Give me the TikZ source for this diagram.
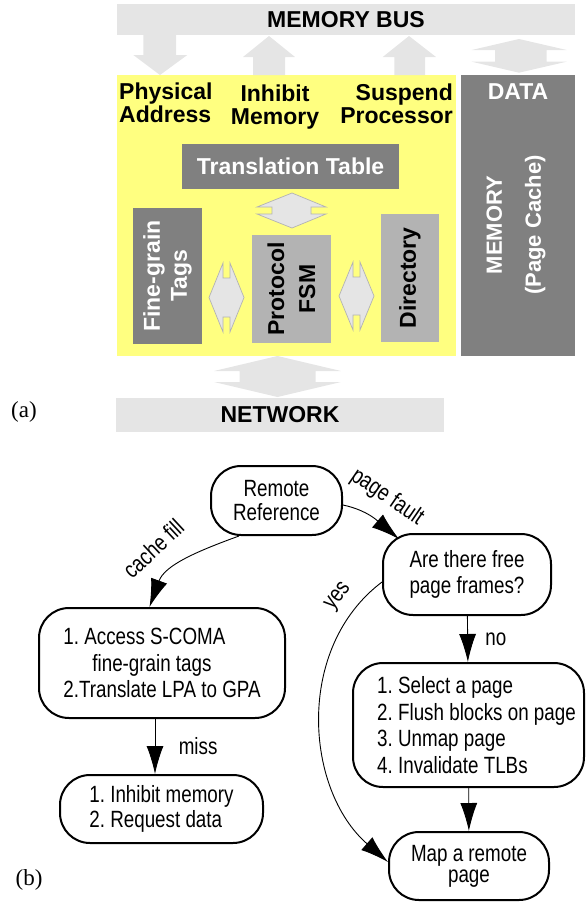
\documentclass[tikz,border=0pt]{standalone}
\usepackage{fontspec}
\setmainfont{Liberation Serif}
\newfontfamily\blockfont{Liberation Sans}
\newfontfamily\flowfont[FakeStretch=0.8]{Liberation Sans}
\usepackage{tikz}
\usetikzlibrary{arrows.meta}
\definecolor{busgray}{HTML}{E5E5E5}
\definecolor{darkbox}{HTML}{808080}
\definecolor{midbox}{HTML}{B3B3B3}
\definecolor{ctrlyellow}{HTML}{FFFF80}
\frenchspacing

\begin{document}
\begin{tikzpicture}[x=1pt,y=1pt]
	\useasboundingbox (0,0) rectangle (586,-902);
	\begin{scope}[every node/.style={inner sep=0pt,font=\blockfont\bfseries\fontsize{23}{23}\selectfont}]
		\node[fill=busgray,minimum width=458pt,minimum height=31pt] (bus) at (346,-19.5) {MEMORY BUS};
		\node[fill=ctrlyellow,minimum width=339pt,minimum height=281pt] (ctrl) at (286.5,-215.5) {};
		\node[fill=darkbox,minimum width=114pt,minimum height=281pt] (memory) at (518,-215.5) {};
		\node[fill=busgray,minimum width=328pt,minimum height=34pt] (network) at (280,-415) {NETWORK};
		\node[fill=darkbox,text=white,minimum width=217pt,minimum height=45pt] (table) at (290.5,-166.5) {Translation Table};
		\node[fill=darkbox,text=white,rotate=90,align=center,minimum width=136pt,minimum height=69pt,font=\blockfont\bfseries\fontsize{23}{27}\selectfont] (tags) at (167.5,-276) {Fine-grain\\Tags};
		\node[fill=midbox,rotate=90,align=center,minimum width=108pt,minimum height=79pt,font=\blockfont\bfseries\fontsize{23}{31}\selectfont] (fsm) at (291.5,-289) {Protocol\\FSM};
		\node[fill=midbox,rotate=90,minimum width=128pt,minimum height=58pt] (dir) at (410,-278) {Directory};
		\node[anchor=west,align=left] (paddr) at (119,-103) {Physical\\Address};
		\node[align=center] (inhibit) at (275,-107) {Inhibit\\Memory};
		\node[anchor=east,align=right] (suspend) at (453,-103.7) {Suspend\\Processor};
		\node[text=white] (data) at (518,-92) {DATA};
		\node[text=white,rotate=90,align=center,font=\blockfont\bfseries\fontsize{22}{39}\selectfont] (cache) at (516,-225) {MEMORY\\(Page Cache)};
	\end{scope}

	\fill[busgray] (143.3,-35) -- (176,-35) -- (176,-55) -- (187.3,-55) -- (160,-75) -- (133.3,-55) -- (143.3,-55) -- cycle;
	\fill[busgray] (253,-75) -- (253,-57) -- (243,-57) -- (269,-36) -- (295,-57) -- (285,-57) -- (285,-75) -- cycle;
	\fill[busgray] (394.3,-75) -- (394.3,-57) -- (382.7,-57) -- (409,-36) -- (436,-57) -- (425,-57) -- (425,-75) -- cycle;
	\fill[busgray] (519,-39) -- (566.7,-50) -- (546.7,-50) -- (546.7,-61.7) -- (566.7,-61.7) -- (519,-72.7) -- (471.7,-61.7) -- (495,-61.7) -- (495,-50) -- (471.7,-50) -- cycle;
	\fill[busgray] (277.5,-356) -- (341,-371) -- (315.5,-371) -- (315.5,-382) -- (341,-382) -- (277.5,-397) -- (214,-382) -- (239.5,-382) -- (239.5,-371) -- (214,-371) -- cycle;
	\begin{scope}[fill=busgray,draw=midbox,line width=0.7pt]
		\filldraw (292,-193) -- (326,-207) -- (311,-207) -- (311,-214) -- (326,-214) -- (292,-228) -- (257,-214) -- (272,-214) -- (272,-207) -- (257,-207) -- cycle;
		\filldraw (209,-297.5) -- (223,-263) -- (223,-278) -- (230,-278) -- (230,-263) -- (244,-297.5) -- (230,-332) -- (230,-317) -- (223,-317) -- (223,-332) -- cycle;
		\filldraw (339,-296) -- (353,-262) -- (353,-277) -- (360,-277) -- (360,-262) -- (374,-296) -- (360,-330) -- (360,-315) -- (353,-315) -- (353,-330) -- cycle;
	\end{scope}

	\node[font=\fontsize{23}{23}\selectfont] (parta) at (24,-412) {(a)};
	\node[font=\fontsize{23}{23}\selectfont] (partb) at (29,-880) {(b)};

	\begin{scope}[every node/.style={draw,line width=2pt,rounded corners=30pt,inner sep=0pt,font=\flowfont\fontsize{23.5}{25}\selectfont}]
		\node[align=center,minimum width=131pt,minimum height=69pt,font=\flowfont\fontsize{23.5}{24}\selectfont] (remote) at (276.5,-500.5) {Remote\\Reference};
		\node[align=center,minimum width=168pt,minimum height=81pt,font=\flowfont\fontsize{23.5}{26}\selectfont] (free) at (467,-574.5) {Are there free\\page frames?};
		\node[align=left,minimum width=246pt,minimum height=110pt,font=\flowfont\fontsize{23.5}{26.5}\selectfont] (access) at (162,-663) {1. Access S-COMA\\\hspace*{29pt}fine-grain tags\\2.Translate LPA to GPA};
		\node[align=left,minimum width=203pt,minimum height=68pt] (request) at (161.5,-809) {1. Inhibit memory\\2. Request data};
		\node[align=left,minimum width=231pt,minimum height=124pt,font=\flowfont\fontsize{23.5}{26.7}\selectfont] (select) at (468.5,-725) {\hspace*{16pt}1. Select a page\\\hspace*{16pt}2. Flush blocks on page\\\hspace*{16pt}3. Unmap page\\\hspace*{16pt}4. Invalidate TLBs};
		\node[align=center,minimum width=160pt,minimum height=68pt,font=\flowfont\fontsize{23.5}{21}\selectfont] (map) at (469,-866) {Map a remote\\page};
	\end{scope}

	\begin{scope}[every edge/.style={draw=black,line width=0.9pt},every node/.style={font=\flowfont\fontsize{23.5}{25}\selectfont}]
		\path [-{Latex[length=28pt,width=17pt]}] ([yshift=-4.5pt]remote.east) edge [out=-12,in=140] node [sloped,above=10pt] {page fault} ([xshift=17pt,yshift=-6pt]free.north west);
		\path [-{Latex[length=28pt,width=17pt]}] ([xshift=-37.5pt]remote.south) edge [out=-160,in=70] node [xshift=-31pt,yshift=13pt,rotate=43] {cache fill} ([xshift=-12.5pt]access.north);
		\path [-{Latex[length=28pt,width=17pt]}] ([yshift=-7.5pt]free.west) edge [out=-143,in=139] node [pos=0.1,xshift=-20pt,yshift=7pt,rotate=52] {yes} ([yshift=4pt]map.west);
		\path [-{Latex[length=28pt,width=17pt]}] (free) edge node [right=14pt] {no} (select);
		\path [-{Latex[length=28pt,width=17pt]}] ([xshift=-7pt]access.south) edge node [right=20pt] {miss} ([xshift=-6.5pt]request.north);
		\path [-{Latex[length=28pt,width=17pt]}] (select) edge (map);
	\end{scope}
\end{tikzpicture}
\end{document}
